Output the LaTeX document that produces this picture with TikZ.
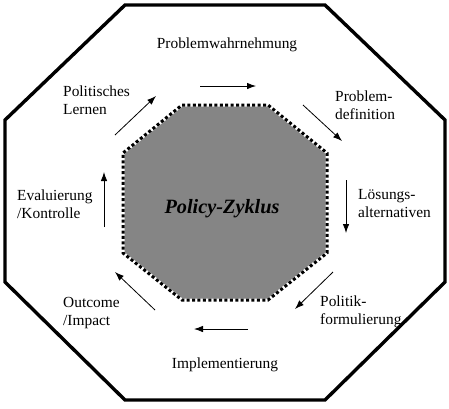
\documentclass[tikz,border=0pt]{standalone}
\usepackage{fontspec}
\setmainfont{Liberation Serif}
\usetikzlibrary{arrows.meta}
\begin{document}
\begin{tikzpicture}[x=1pt,y=-1pt,
  stagelabel/.style={inner sep=0pt, font=\fontsize{15.4}{17.3}\selectfont, align=left},
  flow/.style={line width=0.8pt, -{Latex[length=9pt,width=6.5pt]}},
  frame/.style={line width=3.4pt, line join=miter},
  coreline/.style={line width=3pt, dash pattern=on 3pt off 2.4pt}]
\useasboundingbox (0,0) rectangle (449,408);

% outer octagon
\draw[frame] (125,5) -- (325,5) -- (445,120) -- (445,282) -- (325,400)
  -- (125,400) -- (5,282) -- (5,120) -- cycle;

% inner octagon with dotted rim
\path[fill=black!48] (182,105) -- (268,105) -- (327,153) -- (327,253)
  -- (268,300) -- (182,300) -- (123,253) -- (123,153) -- cycle;
\draw[white, line width=3pt] (182,105) -- (268,105) -- (327,153) -- (327,253)
  -- (268,300) -- (182,300) -- (123,253) -- (123,153) -- cycle;
\draw[coreline] (182,105) -- (268,105) -- (327,153) -- (327,253)
  -- (268,300) -- (182,300) -- (123,253) -- (123,153) -- cycle;

\node[inner sep=0pt, font=\fontsize{20.3}{22}\selectfont\bfseries\itshape, anchor=base]
  (core) at (222,213) {Policy-Zyklus};

% stage labels (base anchor sits on the last line)
\node[stagelabel, anchor=base] (wahr) at (227,48) {Problemwahrnehmung};
\node[stagelabel, anchor=base west] (def) at (335,119) {Problem-\\definition};
\node[stagelabel, anchor=base west] (loes) at (358,217) {Lösungs-\\alternativen};
\node[stagelabel, anchor=base west] (form) at (320,324) {Politik-\\formulierung};
\node[stagelabel, anchor=base] (impl) at (225,368) {Implementierung};
\node[stagelabel, anchor=base west] (out) at (63,325) {Outcome\\/Impact};
\node[stagelabel, anchor=base west] (eval) at (17,218) {Evaluierung\\/Kontrolle};
\node[stagelabel, anchor=base west] (lern) at (63,114) {Politisches\\Lernen};

% arrow end points
\coordinate (a1s) at (200,86);  \coordinate (a1e) at (256,86);
\coordinate (a2s) at (303,105); \coordinate (a2e) at (342,141);
\coordinate (a3s) at (346,180); \coordinate (a3e) at (346,233);
\coordinate (a4s) at (333,272); \coordinate (a4e) at (295,309);
\coordinate (a5s) at (248,329); \coordinate (a5e) at (194,329);
\coordinate (a6s) at (155,310); \coordinate (a6e) at (115,272);
\coordinate (a7s) at (104,227); \coordinate (a7e) at (104,172);
\coordinate (a8s) at (115,135); \coordinate (a8e) at (156,96);

\draw[flow] (a1s) -- (a1e);
\draw[flow] (a2s) -- (a2e);
\draw[flow] (a3s) -- (a3e);
\draw[flow] (a4s) -- (a4e);
\draw[flow] (a5s) -- (a5e);
\draw[flow] (a6s) -- (a6e);
\draw[flow] (a7s) -- (a7e);
\draw[flow] (a8s) -- (a8e);
\end{tikzpicture}
\end{document}
